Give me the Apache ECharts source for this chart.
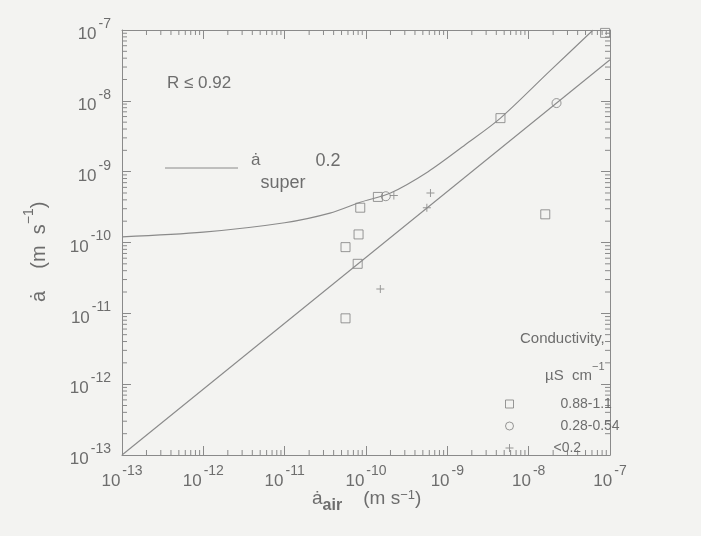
<!DOCTYPE html>
<html>
<head>
<meta charset="utf-8">
<script src="https://cdn.jsdelivr.net/npm/echarts@6/dist/echarts.min.js"></script>
<style>
html,body{margin:0;padding:0;background:#f3f3f1;}
#c{width:701px;height:536px;}
</style>
</head>
<body>
<div id="c"></div>
<script>
// ---- data ----
var decadeExponents = [-13, -12, -11, -10, -9, -8, -7];
var minorFactors = [2, 3, 4, 5, 6, 7, 8, 9];

var sqConductivity = [ // 0.88-1.1 uS/cm
  [8.5e-11, 3.1e-10],
  [1.4e-10, 4.4e-10],
  [8.1e-11, 1.3e-10],
  [5.6e-11, 8.6e-11],
  [7.9e-11, 5.0e-11],
  [5.6e-11, 8.5e-12],
  [4.5e-9, 5.7e-9],
  [1.6e-8, 2.5e-10],
  [8.7e-8, 9.1e-8]
];
var circConductivity = [ // 0.28-0.54 uS/cm
  [1.75e-10, 4.5e-10],
  [2.2e-8, 9.3e-9]
];
var plusConductivity = [ // <0.2 uS/cm
  [2.2e-10, 4.6e-10],
  [6.2e-10, 5.0e-10],
  [5.6e-10, 3.1e-10],
  [1.5e-10, 2.2e-11]
];
var superCurve = [ // a_super 0.2 curve
  [1e-13, 1.2e-10],
  [1e-12, 1.4e-10],
  [1e-11, 1.9e-10],
  [3.6e-11, 2.6e-10],
  [8.5e-11, 3.7e-10],
  [2e-10, 5.0e-10],
  [5.8e-10, 1.0e-9],
  [1.66e-9, 2.4e-9],
  [4.5e-9, 5.7e-9],
  [1.8e-8, 2.6e-8],
  [6.2e-8, 1e-7]
];
var airLine = [[1e-13, 1e-13], [1e-7, 3.8e-8]];

var legendNames = ['0.88-1.1', '0.28-0.54', '<0.2'];

// ---- styling ----
var TXT = '#6d6d6d';
var LN = '#8a8a8a';
var FONT = '"Liberation Sans", Arial, sans-serif';

var chart = echarts.init(document.getElementById('c'), null, {renderer: 'canvas'});

function supLabel(v) {
  var e = Math.round(Math.log10(v));
  return '{b|10}{s|' + e + '}';
}
var labelRich = {
  b: {fontSize: 17, color: TXT, fontFamily: FONT, verticalAlign: 'bottom', lineHeight: 26},
  s: {fontSize: 14, color: TXT, fontFamily: FONT, verticalAlign: 'top', lineHeight: 26, padding: [0, 0, 0, 2]}
};

var minorVals = [];
decadeExponents.slice(0, -1).forEach(function (e) {
  minorFactors.forEach(function (f) { minorVals.push(f * Math.pow(10, e)); });
});
var xMin = Math.pow(10, decadeExponents[0]);
var xMax = Math.pow(10, decadeExponents[decadeExponents.length - 1]);

function logAxis(pos, showLabel, margin) {
  return {
    type: 'log', logBase: 10, min: xMin, max: xMax, position: pos,
    axisLine: {show: true, onZero: false, lineStyle: {color: LN, width: 1}},
    axisTick: {show: true, inside: true, length: 9, lineStyle: {color: LN}},
    axisLabel: {show: showLabel, formatter: supLabel, rich: labelRich, margin: margin || 8},
    splitLine: {show: false},
    minorTick: {show: false}
  };
}

var xMinorData = minorVals.map(function (v) { return [v, xMin]; });
var yMinorData = minorVals.map(function (v) { return [xMin, v]; });

function minorTickSeries(data, horizontal) {
  return {
    type: 'custom', silent: true, data: data, z: 1,
    renderItem: function (params, api) {
      var v = horizontal ? api.value(0) : api.value(1);
      var a, b, children = [], L = 5;
      if (horizontal) {
        a = api.coord([v, xMin]); b = api.coord([v, xMax]);
        children.push({type: 'line', shape: {x1: a[0], y1: a[1], x2: a[0], y2: a[1] - L}, style: {stroke: LN, lineWidth: 1}});
        children.push({type: 'line', shape: {x1: b[0], y1: b[1], x2: b[0], y2: b[1] + L}, style: {stroke: LN, lineWidth: 1}});
      } else {
        a = api.coord([xMin, v]); b = api.coord([xMax, v]);
        children.push({type: 'line', shape: {x1: a[0], y1: a[1], x2: a[0] + L, y2: a[1]}, style: {stroke: LN, lineWidth: 1}});
        children.push({type: 'line', shape: {x1: b[0], y1: b[1], x2: b[0] - L, y2: b[1]}, style: {stroke: LN, lineWidth: 1}});
      }
      return {type: 'group', children: children};
    }
  };
}

var plusPath = 'path://M4.4,0H5.6V4.4H10V5.6H5.6V10H4.4V5.6H0V4.4H4.4Z';
var MK = '#7e7e7e';

var option = {
  backgroundColor: '#f3f3f1',
  animation: false,
  grid: {left: 122, top: 30, width: 488, height: 425, show: false},
  xAxis: [logAxis('bottom', true, 9), logAxis('top', false)],
  yAxis: [logAxis('left', true, 11), logAxis('right', false)],
  legend: {
    orient: 'vertical', left: 500, top: 392, itemGap: 8,
    itemWidth: 8, itemHeight: 8, selectedMode: false,
    itemStyle: {borderWidth: 1},
    textStyle: {color: TXT, fontSize: 14, fontFamily: FONT},
    data: [
      {name: legendNames[0], textStyle: {padding: [0, 0, 0, 42]}},
      {name: legendNames[1], textStyle: {padding: [0, 0, 0, 42]}},
      {name: legendNames[2], textStyle: {padding: [0, 0, 0, 35]}}
    ]
  },
  series: [
    minorTickSeries(xMinorData, true),
    minorTickSeries(yMinorData, false),
    {type: 'line', data: airLine, symbol: 'none', silent: true,
     lineStyle: {color: LN, width: 1.1}},
    {type: 'line', data: superCurve, symbol: 'none', smooth: 0.3, silent: true,
     lineStyle: {color: LN, width: 1.1}},
    {type: 'scatter', name: legendNames[0], data: sqConductivity, symbol: 'rect', symbolSize: 9,
     itemStyle: {color: 'rgba(0,0,0,0)', borderColor: MK, borderWidth: 1}},
    {type: 'scatter', name: legendNames[1], data: circConductivity, symbol: 'circle', symbolSize: 9,
     itemStyle: {color: 'rgba(0,0,0,0)', borderColor: MK, borderWidth: 1}},
    {type: 'scatter', name: legendNames[2], data: plusConductivity, symbol: plusPath, symbolSize: 8,
     itemStyle: {color: MK}}
  ],
  graphic: [
    {type: 'text', left: 167, top: 75, style: {text: 'R ≤ 0.92', fill: TXT, font: '17px ' + FONT}},
    {type: 'line', shape: {x1: 165, y1: 168, x2: 238, y2: 168}, style: {stroke: LN, lineWidth: 1}},
    {type: 'text', left: 251, top: 152, style: {
      text: '{a|ȧ}{s|super}{n|  0.2}', rich: {
        a: {fontSize: 17, fill: TXT, fontFamily: FONT, verticalAlign: 'top', lineHeight: 40},
        s: {fontSize: 18, fill: TXT, fontFamily: FONT, verticalAlign: 'bottom', lineHeight: 40},
        n: {fontSize: 18, fill: TXT, fontFamily: FONT, verticalAlign: 'top', lineHeight: 40}
      }}},
    {type: 'text', left: 520, top: 331, style: {text: 'Conductivity,', fill: TXT, font: '15px ' + FONT}},
    {type: 'text', left: 545, top: 361, style: {
      text: '{t|µS  cm}{s|−1}', rich: {
        t: {fontSize: 15, fill: TXT, fontFamily: FONT, verticalAlign: 'bottom', lineHeight: 22},
        s: {fontSize: 11, fill: TXT, fontFamily: FONT, verticalAlign: 'top', lineHeight: 22}
      }}},
    {type: 'text', left: 312, top: 489, style: {
      text: '{a|ȧ}{s|air}{t|    (m s}{p|−1}{t|)}', rich: {
        a: {fontSize: 19, fill: TXT, fontFamily: FONT, verticalAlign: 'top', lineHeight: 25},
        s: {fontSize: 16, fill: TXT, fontFamily: FONT, fontWeight: 'bold', verticalAlign: 'bottom', lineHeight: 25},
        t: {fontSize: 19, fill: TXT, fontFamily: FONT, verticalAlign: 'top', lineHeight: 25},
        p: {fontSize: 13, fill: TXT, fontFamily: FONT, verticalAlign: 'top', lineHeight: 25}
      }}},
    {type: 'text', x: 22, y: 302, rotation: Math.PI / 2, style: {
      text: '{a|ȧ}{t|    (m  s}{p|−1}{t|)}', rich: {
        a: {fontSize: 20, fill: TXT, fontFamily: FONT, verticalAlign: 'bottom', lineHeight: 27},
        t: {fontSize: 20, fill: TXT, fontFamily: FONT, verticalAlign: 'bottom', lineHeight: 27},
        p: {fontSize: 14, fill: TXT, fontFamily: FONT, verticalAlign: 'top', lineHeight: 27}
      }}}
  ]
};
chart.setOption(option);
</script>
</body>
</html>
